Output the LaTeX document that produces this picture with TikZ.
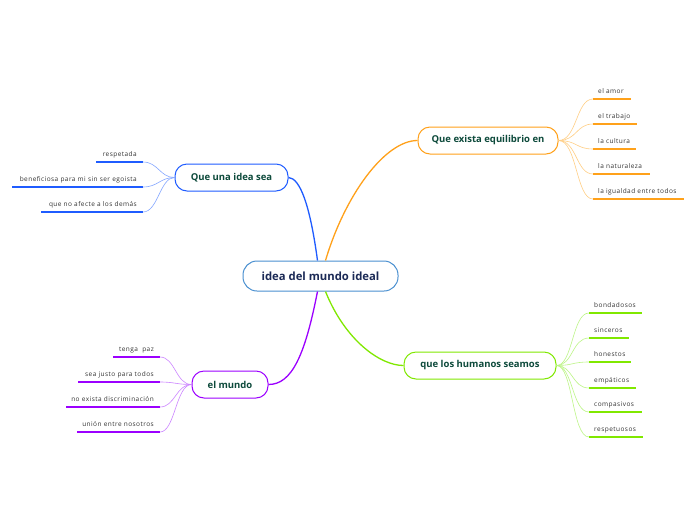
\documentclass[tikz,border=0pt]{standalone}
\usepackage{fontspec}
\setmainfont{Open Sans}
\newfontfamily\leaffont[LetterSpace=7]{Open Sans}
\usetikzlibrary{positioning,calc}

\definecolor{cblue}{HTML}{1F5CFF}
\definecolor{cblueL}{HTML}{86A8FF}
\definecolor{corange}{HTML}{FFA11A}
\definecolor{corangeL}{HTML}{FFCF85}
\definecolor{cgreen}{HTML}{80E800}
\definecolor{cgreenL}{HTML}{BDF587}
\definecolor{cpurple}{HTML}{9C00FF}
\definecolor{cpurpleL}{HTML}{CC85FF}
\definecolor{ccentre}{HTML}{4A90D0}
\definecolor{ctopic}{HTML}{0D4A3B}
\definecolor{cnavy}{HTML}{1B2A56}

\tikzset{
  topic/.style={draw=#1, line width=1pt, fill=white, rounded corners=12pt,
    minimum height=27pt, inner xsep=10pt, font=\fontsize{9.5}{10}\selectfont\bfseries, text=ctopic},
  mainlink/.style={draw=#1, line width=1.3pt},
  leaflink/.style={draw=#1, line width=0.6pt},
  uline/.style={draw=#1, line width=2pt},
  leaf/.style={inner sep=0pt, font=\leaffont\fontsize{6.5}{7}\selectfont, text=black!80}
}

\begin{document}
\begin{tikzpicture}[x=1pt,y=-1pt]
\useasboundingbox[fill=white] (0,0) rectangle (696,520);

% central idea
\node[topic=ccentre, minimum width=155pt, minimum height=30pt, rounded corners=14pt,
  font=\fontsize{11.3}{12}\selectfont\bfseries, text=cnavy] (centre) at (320.5,276) {idea del mundo ideal};

% main topics
\node[topic=cblue, minimum width=113pt] (idea) at (231.5,177.5) {Que una idea sea};
\node[topic=corange, minimum width=140pt] (equi) at (488,140.5) {Que exista equilibrio en};
\node[topic=cgreen, minimum width=152pt] (human) at (480,365.5) {que los humanos seamos};
\node[topic=cpurple, minimum width=76pt] (world) at (230,384.5) {el mundo};

% main links
\draw[mainlink=cblue] ($(centre.north)+(-3,0)$) .. controls (310,205) and (300,178) .. (idea.east);
\draw[mainlink=corange] ($(centre.north)+(5,0)$) .. controls (345,195) and (385,140.5) .. (equi.west);
\draw[mainlink=cgreen] ($(centre.south)+(5,0)$) .. controls (345,340) and (380,365.5) .. (human.west);
\draw[mainlink=cpurple] ($(centre.south)+(-3,0)$) .. controls (305,355) and (292,384.5) .. (world.east);

% leaves of "Que una idea sea"
\foreach \n/\y/\s/\t in {1/162/96/respetada,2/187/12/beneficiosa para mi sin ser egoista,3/212/41/que no afecte a los demás} {
  \coordinate (i\n) at (143,\y);
  \draw[uline=cblue] (\s,\y) -- (i\n);
  \node[leaf, anchor=base east] at (137,\y-6) {\t};
  \draw[leaflink=cblueL] (idea.west) .. controls (160,177.5) and (158,\y) .. (i\n);
}

% leaves of "Que exista equilibrio en"
\foreach \n/\y/\e/\t in {1/99/631/el amor,2/124/637/el trabajo,3/149/636/la cultura,4/174/650/la naturaleza,5/199/684/la igualdad entre todos} {
  \coordinate (e\n) at (593,\y);
  \draw[uline=corange] (e\n) -- (\e,\y);
  \node[leaf, anchor=base west] at (598,\y-5.5) {\t};
  \draw[leaflink=corangeL] (equi.east) .. controls (577,140.5) and (576,\y) .. (e\n);
}

% leaves of "que los humanos seamos"
\foreach \n/\y/\e/\t in {1/313/642/bondadosos,2/338/629/sinceros,3/362/631/honestos,4/388/636/empáticos,5/412/642/compasivos,6/437/643/respetuosos} {
  \coordinate (h\n) at (589,\y);
  \draw[uline=cgreen] (h\n) -- (\e,\y);
  \node[leaf, anchor=base west] at (594,\y-5.5) {\t};
  \draw[leaflink=cgreenL] (human.east) .. controls (573,365.5) and (572,\y) .. (h\n);
}

% leaves of "el mundo"
\foreach \n/\y/\s/\t in {1/357/113/tenga\ \ paz,2/382/78/sea justo para todos,3/407/66/no exista discriminación,4/432/77/unión entre nosotros} {
  \coordinate (w\n) at (160,\y);
  \draw[uline=cpurple] (\s,\y) -- (w\n);
  \node[leaf, anchor=base east] at (154,\y-6) {\t};
  \draw[leaflink=cpurpleL] (world.west) .. controls (176,384.5) and (175,\y) .. (w\n);
}
\end{tikzpicture}
\end{document}
